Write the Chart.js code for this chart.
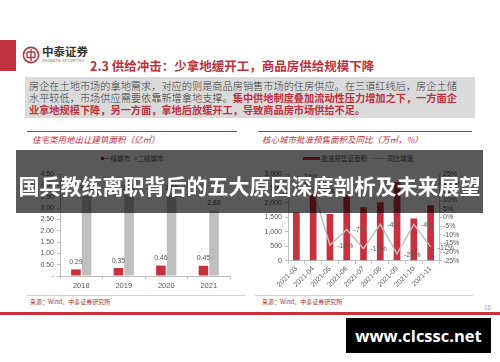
<!DOCTYPE html>
<html>
<head>
<meta charset="utf-8">
<script src="https://cdn.jsdelivr.net/npm/chart.js@4.4.1/dist/chart.umd.min.js"></script>
<style>
  html, body { margin: 0; padding: 0; background: #fff; }
  #page { position: relative; width: 500px; height: 362px; overflow: hidden; background: #fff;
          font-family: "Noto Sans CJK SC", "Liberation Sans", sans-serif; }
  .abs { position: absolute; white-space: nowrap; }
  canvas { position: absolute; }
</style>
</head>
<body>
<div id="page">
  <!-- header -->
  <div class="abs" style="left:0;top:40px;width:16px;height:31px;background:#c0313e;"></div>
  <svg class="abs" style="left:22px;top:46px;" width="18" height="18" viewBox="0 0 18 18">
    <circle cx="9" cy="9" r="7.6" fill="none" stroke="#c0313e" stroke-width="1.6"/>
    <rect x="5" y="6" width="8" height="5.5" rx="1" fill="none" stroke="#c0313e" stroke-width="1.4"/>
    <line x1="9" y1="3" x2="9" y2="15" stroke="#c0313e" stroke-width="1.4"/>
  </svg>
  <div class="abs" style="left:42px;top:45px;font-size:11.5px;font-weight:700;color:#333;line-height:13px;">中泰证券</div>
  <div class="abs" style="left:42px;top:59px;font-size:3.6px;color:#555;line-height:4px;letter-spacing:0.2px;">ZHONGTAI SECURITIES</div>
  <div class="abs" style="left:90px;top:58px;font-size:12.5px;font-weight:700;color:#c0313e;line-height:15px;">2.3 供给冲击：少拿地缓开工，商品房供给规模下降</div>

  <div class="abs" style="left:25px;top:77px;width:450px;height:41px;background:#dadada;"></div>
  <div class="abs" style="left:29px;top:80px;font-size:10.2px;line-height:12px;color:#3a3a3a;font-weight:300;">
    房企在土地市场的拿地需求，对应的则是商品房销售市场的住房供应。在三道红线后，房企土储<br>
    水平较低，市场供应需要依靠新增拿地支撑。<b style="color:#c0313e;font-weight:700;">集中供地制度叠加流动性压力增加之下，一方面企</b><br>
    <b style="color:#c0313e;font-weight:700;">业拿地规模下降，另一方面，拿地后放缓开工，导致商品房市场供给不足。</b>
  </div>

  <!-- left panel -->
  <div class="abs" style="left:27px;top:131px;width:210px;height:1px;background:#c0313e;"></div>
  <div class="abs" style="left:32px;top:134px;font-size:8.5px;font-style:italic;color:#c0313e;line-height:11px;">住宅类用地出让建筑面积（亿㎡）</div>
  <div class="abs" style="left:101px;top:154px;font-size:6.5px;color:#595959;line-height:8px;">
    <span style="display:inline-block;width:3px;height:3px;background:#c9303e;vertical-align:1px;"></span>一线城市&nbsp;&nbsp;
    <span style="display:inline-block;width:3px;height:3px;background:#bfbfbf;vertical-align:1px;"></span>二线城市
  </div>
  <canvas id="leftChart" width="222" height="142" style="left:20px;top:150px;"></canvas>
  <div class="abs" style="left:27px;top:295px;width:218px;height:1px;background:#e3c9cc;"></div>
  <div class="abs" style="left:30px;top:298px;font-size:6px;color:#a0323c;line-height:8px;">来源：Wind、中泰证券研究所</div>

  <!-- right panel -->
  <div class="abs" style="left:258px;top:131px;width:214px;height:1px;background:#c0313e;"></div>
  <div class="abs" style="left:262px;top:134px;font-size:8.5px;font-style:italic;color:#c0313e;line-height:11px;">核心城市批准预售面积及同比（万㎡，%）</div>
  <div class="abs" style="left:303px;top:154px;font-size:6.5px;color:#595959;line-height:8px;">
    <span style="display:inline-block;width:17px;height:3px;background:#c9303e;vertical-align:1px;"></span> 批准预售证面积&nbsp;&nbsp;&nbsp;
    <span style="display:inline-block;width:13px;height:1px;background:#bfbfbf;vertical-align:2px;"></span> 同比增速
  </div>
  <canvas id="rightChart" width="230" height="145" style="left:252px;top:150px;"></canvas>
  <div class="abs" style="left:255px;top:295px;width:218px;height:1px;background:#e3c9cc;"></div>
  <div class="abs" style="left:262px;top:298px;font-size:6px;color:#a0323c;line-height:8px;">来源：Wind、中泰证券研究所</div>

  <!-- footer -->
  <div class="abs" style="left:0;top:312px;width:500px;height:3px;background:#c9303e;"></div>
  <div class="abs" style="left:484px;top:304px;font-size:6.5px;color:#aaa;font-family:'Liberation Sans';">16</div>

  <!-- overlay banner -->
  <div class="abs" style="left:16px;top:150px;width:467px;height:63px;background:rgba(0,0,0,0.65);"></div>
  <div class="abs" style="left:16px;top:170px;width:467px;text-align:center;font-size:21px;font-weight:700;color:#fff;line-height:30px;">国兵教练离职背后的五大原因深度剖析及未来展望</div>

  <div class="abs" style="left:346px;top:318px;width:145px;height:35px;background:#000;"></div>
  <div class="abs" style="left:346px;top:318px;width:145px;text-align:center;font-size:16.5px;font-weight:700;color:#fff;line-height:35px;font-family:'Open Sans','Liberation Sans',sans-serif;">www.clcssc.net</div>
</div>

<script>
// left chart: 住宅类用地出让建筑面积（亿㎡）
const years = ["2018", "2019", "2020", "2021"];
const tier1Area = [0.29, 0.35, 0.46, 0.45];
const tier2Area = [3.55, 3.57, 3.56, 2.88];

// right chart: 核心城市批准预售面积及同比
const months = ["2021-03", "2021-04", "2021-05", "2021-06", "2021-07", "2021-08", "2021-09", "2021-10", "2021-11"];
const presaleArea = [1670, 2300, 1620, 2260, 1850, 2020, 2720, 1460, 1920];
const presaleYoy = [24, 16, -16, -7, -18, -4, -21, -4, -17];

const RED = "#c9303e";
const GRAY = "#bfbfbf";
const TEXT = "#595959";

Chart.defaults.font.family = "'Liberation Sans', Arial, sans-serif";
Chart.defaults.font.size = 7;
Chart.defaults.color = TEXT;

// draws value labels next to bars / points, using element positions from the scales
const valueLabels = {
  id: "valueLabels",
  afterDatasetsDraw(chart, args, opts) {
    const ctx = chart.ctx;
    ctx.save();
    ctx.font = "7px 'Liberation Sans', Arial, sans-serif";
    ctx.fillStyle = TEXT;
    (opts.sets || []).forEach(set => {
      const meta = chart.getDatasetMeta(set.index);
      const values = chart.data.datasets[set.index].data;
      meta.data.forEach((el, i) => {
        const v = values[i];
        if (v == null) return;
        const txt = set.format(v);
        if (set.pos === "top") {
          ctx.textAlign = "center";
          ctx.textBaseline = "bottom";
          ctx.fillText(txt, el.x, el.y - 4);
        } else {
          ctx.textAlign = "left";
          ctx.textBaseline = "middle";
          ctx.fillText(txt, el.x + 7, el.y + 1);
        }
      });
    });
    ctx.restore();
  }
};

const axisGrid = {
  display: true,
  drawOnChartArea: false,
  drawTicks: true,
  tickLength: 3,
  color: GRAY
};

new Chart(document.getElementById("leftChart"), {
  type: "bar",
  data: {
    labels: years,
    datasets: [
      { label: "一线城市", data: tier1Area, backgroundColor: RED, categoryPercentage: 0.5, barPercentage: 0.9 },
      { label: "二线城市", data: tier2Area, backgroundColor: GRAY, categoryPercentage: 0.5, barPercentage: 0.9 }
    ]
  },
  options: {
    responsive: false,
    animation: false,
    devicePixelRatio: 1,
    layout: { padding: { top: 24, right: 12, left: 0, bottom: 0 } },
    plugins: {
      legend: { display: false },
      tooltip: { enabled: false },
      valueLabels: {
        sets: [
          { index: 0, pos: "top", format: v => v.toFixed(2) },
          { index: 1, pos: "top", format: v => v.toFixed(2) }
        ]
      }
    },
    scales: {
      x: {
        grid: axisGrid,
        border: { display: true, color: GRAY },
        ticks: { padding: 2, font: { size: 7.5 } },
        afterFit(scale) { scale.height = 16; }
      },
      y: {
        min: 0,
        max: 4.5,
        grid: axisGrid,
        border: { display: true, color: GRAY },
        ticks: {
          stepSize: 0.5,
          padding: 3,
          autoSkip: false,
          callback: v => (v === 0 ? "-" : v.toFixed(2))
        },
        afterFit(scale) { scale.width = 40; }
      }
    }
  },
  plugins: [valueLabels]
});

new Chart(document.getElementById("rightChart"), {
  data: {
    labels: months,
    datasets: [
      {
        type: "line",
        label: "同比增速",
        data: presaleYoy,
        yAxisID: "y1",
        borderColor: GRAY,
        borderWidth: 1.5,
        pointRadius: 0,
        tension: 0,
        order: 0
      },
      {
        type: "bar",
        label: "批准预售证面积",
        data: presaleArea,
        yAxisID: "y",
        backgroundColor: RED,
        categoryPercentage: 0.8,
        barPercentage: 0.5,
        order: 1
      }
    ]
  },
  options: {
    responsive: false,
    animation: false,
    devicePixelRatio: 1,
    layout: { padding: { top: 24, right: 0, left: 0, bottom: 0 } },
    plugins: {
      legend: { display: false },
      tooltip: { enabled: false },
      valueLabels: {
        sets: [{ index: 0, pos: "right", format: v => v + "%" }]
      }
    },
    scales: {
      x: {
        offset: true,
        grid: Object.assign({}, axisGrid, { offset: true }),
        border: { display: true, color: GRAY },
        ticks: { autoSkip: false, minRotation: 45, maxRotation: 45, padding: 1 },
        afterFit(scale) { scale.height = 34.3; }
      },
      y: {
        position: "left",
        min: 0,
        max: 3000,
        grid: axisGrid,
        border: { display: true, color: GRAY },
        ticks: { stepSize: 500, padding: 3, autoSkip: false },
        afterFit(scale) { scale.width = 36; }
      },
      y1: {
        position: "right",
        min: -25,
        max: 25,
        grid: axisGrid,
        border: { display: true, color: GRAY },
        ticks: { stepSize: 5, padding: 1, autoSkip: false, callback: v => v + "%" },
        afterFit(scale) { scale.width = 43; }
      }
    }
  },
  plugins: [valueLabels]
});
</script>
</body>
</html>
